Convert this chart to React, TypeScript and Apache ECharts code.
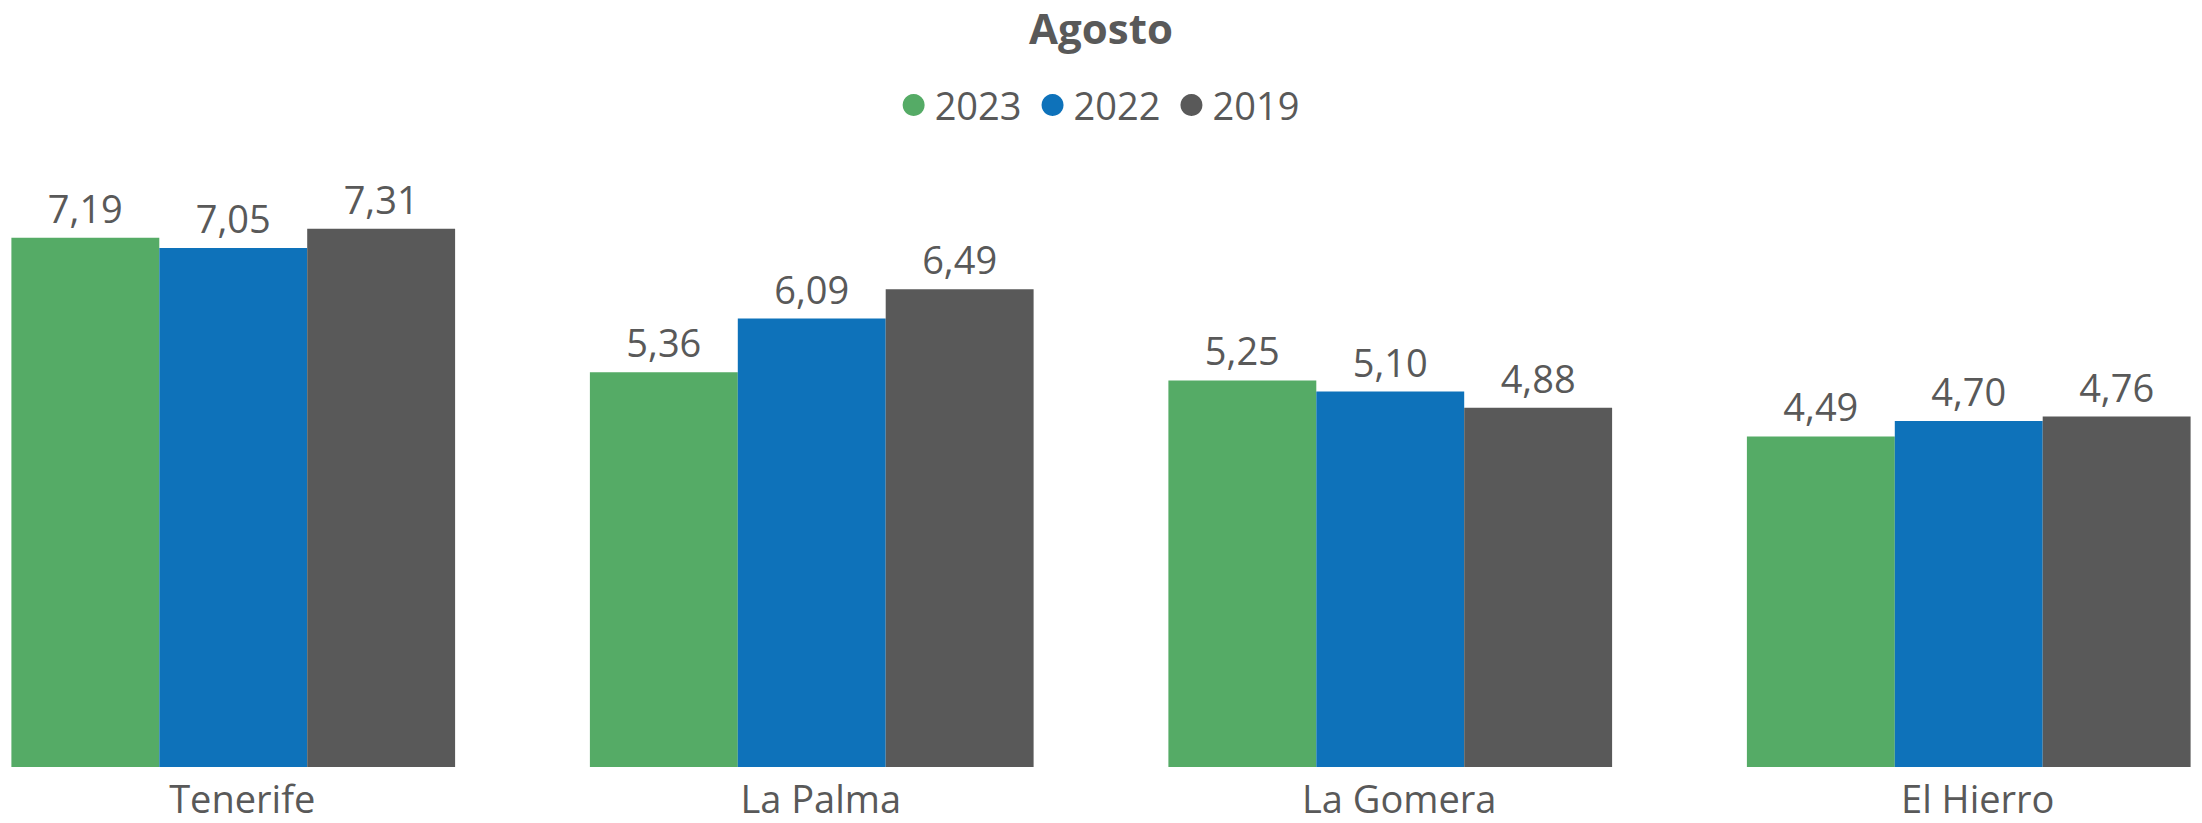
import React, { useEffect, useRef } from "react";
import * as echarts from "echarts";

const categories = ["Tenerife", "La Palma", "La Gomera", "El Hierro"];
const seriesNames = ["2023", "2022", "2019"];
const values2023 = [7.19, 5.36, 5.25, 4.49];
const values2022 = [7.05, 6.09, 5.1, 4.7];
const values2019 = [7.31, 6.49, 4.88, 4.76];
const colors = ["#55AB66", "#0E72BA", "#595959"];

const FONT = "'Open Sans', 'Noto Sans', sans-serif";
const TEXT = "#595959";

export default function App() {
  const ref = useRef<HTMLDivElement>(null);
  useEffect(() => {
    if (!ref.current) return;
    const chart = echarts.init(ref.current, undefined, { renderer: "svg" });
    const data = [values2023, values2022, values2019];
    chart.setOption({
      animation: false,
      backgroundColor: "#ffffff",
      title: {
        text: "Agosto",
        left: "center",
        top: 1,
        padding: [0, 0, 0, 20],
        textStyle: { fontFamily: FONT, fontSize: 42, lineHeight: 52, fontWeight: "bold", color: TEXT },
      },
      legend: {
        data: seriesNames,
        top: 81,
        left: "center",
        padding: [5, 0, 5, 16],
        icon: "circle",
        itemWidth: 22,
        itemHeight: 22,
        itemGap: 20,
        textStyle: { fontFamily: FONT, fontSize: 38, color: TEXT, padding: [0, 0, 0, 5] },
      },
      grid: { left: 0, right: 0, top: 178, bottom: 56, containLabel: false },
      xAxis: {
        type: "category",
        data: categories,
        axisLine: { show: false },
        axisTick: { show: false },
        axisLabel: {
          fontFamily: FONT,
          fontSize: 38,
          lineHeight: 38,
          color: TEXT,
          margin: 12,
          padding: [0, 0, 0, 18],
        },
      },
      yAxis: {
        type: "value",
        min: 0,
        max: 8,
        show: false,
        splitLine: { show: false },
      },
      series: seriesNames.map((name, i) => ({
        name,
        type: "bar",
        data: data[i],
        barGap: 0,
        barCategoryGap: "23.3%",
        itemStyle: { color: colors[i] },
        label: {
          show: true,
          position: "top",
          distance: 11,
          fontFamily: FONT,
          fontSize: 38,
          color: TEXT,
          formatter: (p: any) => p.value.toFixed(2).replace(".", ","),
        },
      })),
    });
    return () => chart.dispose();
  }, []);
  return (
    <div style={{ position: "fixed", left: 0, top: 0, width: 2202, height: 823, overflow: "hidden", background: "#fff" }}>
      <div
        ref={ref}
        style={{ position: "absolute", left: -56, top: 0, width: 2314, height: 823 }}
      />
    </div>
  );
}
